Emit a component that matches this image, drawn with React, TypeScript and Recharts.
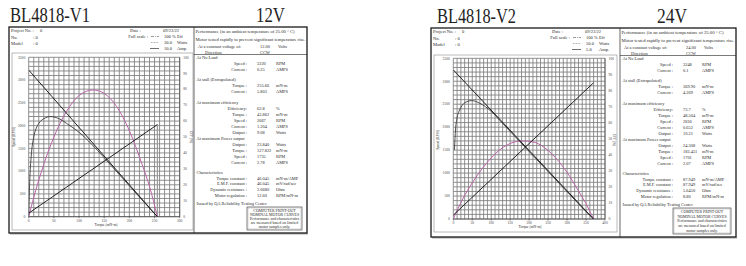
import React from 'react';
import { LineChart, Line, XAxis, YAxis, ReferenceLine } from 'recharts';

const SERIF = '"Liberation Serif", "Times New Roman", serif';

// shared axis ticks
const speedTicks = [0, 500, 1000, 1500, 2000, 2500, 3000, 3500];
const effTicks = [0, 10, 20, 30, 40, 50, 60, 70, 80, 90, 100];
const v1TorqueTicks = [0, 50, 100, 150, 200, 250, 300];
const v2TorqueTicks = [0, 50, 100, 150, 200, 250, 300, 350, 400];

// BL4818-V1, 12V
const v1SpeedTorque = [0, 255.66];
const v1Speed = [3220, 0];
const v1CurrentTorque = [0, 255.66];
const v1Current = [0.22, 5.78];
const v1EffTorque = [0, 2, 5, 10, 15, 20, 30, 43.8, 60, 80, 100, 125, 150, 175, 200, 225, 245, 255.66];
const v1Eff = [0, 22, 38, 50, 55.5, 58.5, 61.5, 62.8, 61.5, 57.5, 53, 45.5, 37, 28.2, 19.4, 10.6, 3.6, 0];
const v1PowerTorque = [0, 10, 25, 50, 75, 100, 128, 150, 175, 200, 225, 240, 255.66];
const v1Power = [0, 3.6, 8.4, 15.0, 19.8, 22.8, 23.85, 23.2, 20.7, 16.2, 9.9, 5.7, 0];

// BL4818-V2, 24V
const v2SpeedTorque = [0, 369.9];
const v2Speed = [3248, 0];
const v2CurrentTorque = [0, 369.9];
const v2Current = [0.12, 4.24];
const v2EffTorque = [3, 6, 10, 15, 20, 30, 48.5, 70, 100, 130, 160, 190, 220, 250, 280, 310, 340, 360, 369.9];
const v2Eff = [43, 56, 63, 67, 69.5, 72.3, 73.7, 72, 67, 59.5, 52, 44.5, 37, 29.5, 22, 14.5, 7, 2.2, 0];
const v2PowerTorque = [0, 25, 50, 75, 100, 125, 150, 182, 210, 240, 270, 300, 330, 350, 369.9];
const v2Power = [0, 6.25, 11.25, 15.5, 19, 21.75, 23.5, 24.3, 24, 22.25, 19, 14.5, 8.75, 4.75, 0];

const v1Header = { date: '09/23/22', eff: '100 %', watts: '30.0', amps: '10.0' };
const v2Header = { date: '09/23/22', eff: '100 %', watts: '50.0', amps: '5.0' };

const v1Top = ['12.00', 'CCW'];
const v2Top = ['24.00', 'CCW'];

// [kind, label, value, unit]
const v1Panel: string[][] = [
  ['h', 'At No Load', '', ''],
  ['r', 'Speed :', '3220', 'RPM'],
  ['r', 'Current :', '0.25', 'AMPS'],
  ['h', 'At stall (Extrapolated)', '', ''],
  ['r', 'Torque :', '255.66', 'mN-m'],
  ['r', 'Current :', '5.803', 'AMPS'],
  ['h', 'At maximum efficiency', '', ''],
  ['r', 'Efficiency:', '62.8', '%'],
  ['r', 'Torque :', '43.862', 'mN-m'],
  ['r', 'Speed :', '2667', 'RPM'],
  ['r', 'Current :', '1.204', 'AMPS'],
  ['r', 'Output :', '9.08', 'Watts'],
  ['h', 'At maximum Power output', '', ''],
  ['r', 'Output :', '23.840', 'Watts'],
  ['r', 'Torque :', '127.822', 'mN-m'],
  ['r', 'Speed :', '1735', 'RPM'],
  ['r', 'Current :', '2.78', 'AMPS'],
  ['h', 'Characteristics', '', ''],
  ['r', 'Torque constant   :', '46.045', 'mN-m/AMP'],
  ['r', 'E.M.F. constant   :', '46.045', 'mV/rad/sec'],
  ['r', 'Dynamic resistance   :', '2.0680', 'Ohm'],
  ['r', 'Motor regulation   :', '12.60', 'RPM/mN-m'],
  ['h', 'Issued by QA Reliability Testing  Center', '', ''],
];

const v2Panel: string[][] = [
  ['h', 'At No Load', '', ''],
  ['r', 'Speed :', '3248', 'RPM'],
  ['r', 'Current :', '0.1', 'AMPS'],
  ['h', 'At stall (Extrapolated)', '', ''],
  ['r', 'Torque :', '369.90', 'mN-m'],
  ['r', 'Current :', '4.269', 'AMPS'],
  ['h', 'At maximum efficiency', '', ''],
  ['r', 'Efficiency:', '73.7', '%'],
  ['r', 'Torque :', '48.504', 'mN-m'],
  ['r', 'Speed :', '2816', 'RPM'],
  ['r', 'Current :', '0.652', 'AMPS'],
  ['r', 'Output :', '10.21', 'Watts'],
  ['h', 'At maximum Power output', '', ''],
  ['r', 'Output :', '24.308', 'Watts'],
  ['r', 'Torque :', '182.451', 'mN-m'],
  ['r', 'Speed :', '1701', 'RPM'],
  ['r', 'Current :', '2.07', 'AMPS'],
  ['h', 'Characteristics', '', ''],
  ['r', 'Torque constant   :', '87.949', 'mN-m/AMP'],
  ['r', 'E.M.F. constant   :', '87.949', 'mV/rad/sec'],
  ['r', 'Dynamic resistance   :', '5.6450', 'Ohm'],
  ['r', 'Motor regulation   :', '8.80', 'RPM/mN-m'],
  ['h', 'Issued by QA Reliability Testing  Center', '', ''],
];

const panelRowY = [30.5, 36, 42, 52, 58.5, 64.5, 75, 81, 87, 93, 99, 105, 111, 117, 123, 129, 135, 145, 151, 156.5, 162.5, 168, 176.5];
const boxLines = ['COMPUTER PRINT-OUT', 'NOMINAL MOTOR CURVES', 'Performance and characteristics', 'are measured based on limited', 'motor samples only.'];

// grid every 100 RPM and every 10 mN-m
const speedGrid = Array.from({ length: 36 }, (_, i) => i * 100);
const v1Grid = Array.from({ length: 31 }, (_, i) => i * 10);
const v2Grid = Array.from({ length: 41 }, (_, i) => i * 10);

const pts = (xs: number[], ys: number[]) => xs.map((t, i) => ({ t, v: ys[i] }));

const labelStyle = { fontSize: 3.6, fill: '#444', fontFamily: SERIF };

const xTick = (p: any) => (
  <text x={p.x} y={p.y} dy={3} textAnchor="middle" fontSize={3.6} fill="#444" fontFamily={SERIF}>
    {p.payload.value}
  </text>
);

function MotorChart(props: any) {
  const { left, top, width, height, margin, xMax, xTicks, xGrid, speed, current, eff, power, ampMax, wattMax, stall } = props;
  return (
    <div style={{ position: 'absolute', left, top, width, height }}>
      <LineChart width={width} height={height} margin={margin}>
        <XAxis type="number" dataKey="t" domain={[0, xMax]} ticks={xTicks} interval={0} allowDataOverflow height={8}
          tickSize={1.5} tickMargin={0.5} tick={xTick} stroke="#333" strokeWidth={0.6} />
        <YAxis yAxisId="speed" orientation="left" domain={[0, 3500]} ticks={speedTicks} interval={0} width={10}
          tickSize={1.5} tick={false} stroke="#333" strokeWidth={0.6} allowDataOverflow />
        <YAxis yAxisId="eff" orientation="right" domain={[0, 100]} ticks={effTicks} interval={0} width={10}
          tickSize={1.5} tick={false} stroke="#333" strokeWidth={0.6} allowDataOverflow />
        <YAxis yAxisId="amp" hide domain={[0, ampMax]} />
        <YAxis yAxisId="watt" hide domain={[0, wattMax]} />
        {speedGrid.map((v) => (
          <ReferenceLine key={'h' + v} yAxisId="speed" y={v} stroke="#7c7c7c" strokeWidth={0.85} />
        ))}
        {xGrid.map((v: number) => (
          <ReferenceLine key={'v' + v} yAxisId="speed" x={v} stroke="#7c7c7c" strokeWidth={0.85} />
        ))}
        {speedTicks.map((v) => (
          <ReferenceLine key={'sl' + v} yAxisId="speed" y={v} stroke="none"
            label={{ value: String(v), position: 'left', offset: 3.5, ...labelStyle }} />
        ))}
        {effTicks.map((v) => (
          <ReferenceLine key={'el' + v} yAxisId="eff" y={v} stroke="none"
            label={{ value: String(v), position: 'right', offset: 3.5, ...labelStyle }} />
        ))}
        {stall ? (
          <ReferenceLine yAxisId="amp" segment={[{ x: stall[0], y: 0 }, { x: stall[0], y: stall[1] }]} stroke="#9a9a9a" strokeWidth={1.2} />
        ) : null}
        <Line yAxisId="watt" data={power} dataKey="v" type="monotone" stroke="#b865a8" strokeWidth={1} dot={false} isAnimationActive={false} />
        <Line yAxisId="eff" data={eff} dataKey="v" type="monotone" stroke="#333" strokeWidth={0.85} dot={false} isAnimationActive={false} />
        <Line yAxisId="speed" data={speed} dataKey="v" type="linear" stroke="#111" strokeWidth={0.9} dot={false} isAnimationActive={false} />
        <Line yAxisId="amp" data={current} dataKey="v" type="linear" stroke="#111" strokeWidth={0.9} dot={false} isAnimationActive={false} />
      </LineChart>
    </div>
  );
}

function Sheet(props: any) {
  const { x0, x1, top, bottom, div, header, topVals, panel, box, axis } = props;
  const fs = 4.5;
  const t = (y: number) => top + y + 1.5;
  return (
    <g fontFamily={SERIF} fill="#2a2a2a">
      <rect x={x0} y={top} width={x1 - x0} height={bottom - top} fill="none" stroke="#1a1a1a" strokeWidth={1.3} />
      <line x1={x0 + 1} y1={bottom + 0.8} x2={x1 + 0.8} y2={bottom + 0.8} stroke="#444" strokeWidth={0.8} />
      <line x1={div} y1={top} x2={div} y2={bottom} stroke="#222" strokeWidth={0.7} />
      <line x1={div} y1={top + 27.5} x2={x1} y2={top + 27.5} stroke="#222" strokeWidth={0.6} />
      <rect x={axis.bx} y={axis.by} width={axis.bw} height={axis.bh} fill="none" stroke="#8a8a8a" strokeWidth={0.6} />
      {/* header */}
      <text x={x0 + 2} y={t(3.5)} fontSize={fs}>Project No. :</text>
      <text x={x0 + 31} y={t(3.5)} fontSize={fs}>0</text>
      <text x={x0 + 2} y={t(10)} fontSize={fs}>No.</text>
      <text x={x0 + 24} y={t(10)} fontSize={fs}>:  0</text>
      <text x={x0 + 2} y={t(16)} fontSize={fs}>Model</text>
      <text x={x0 + 24} y={t(16)} fontSize={fs}>:  0</text>
      <text x={x0 + 121} y={t(3.5)} fontSize={fs}>Date  :</text>
      <text x={x0 + 154} y={t(3.5)} fontSize={fs}>{header.date}</text>
      <text x={x0 + 139} y={t(9.5)} fontSize={fs} textAnchor="end">Full scale :</text>
      <line x1={x0 + 142} y1={top + 9.5} x2={x0 + 150} y2={top + 9.5} stroke="#333" strokeWidth={0.5} strokeDasharray="3 1 0.8 1" />
      <line x1={x0 + 142} y1={top + 15.5} x2={x0 + 150} y2={top + 15.5} stroke="#333" strokeWidth={0.5} strokeDasharray="0.8 0.8" />
      <line x1={x0 + 141} y1={top + 21.5} x2={x0 + 150} y2={top + 21.5} stroke="#333" strokeWidth={0.7} />
      <text x={x0 + 155} y={t(9.5)} fontSize={fs}>{header.eff}</text>
      <text x={x0 + 155} y={t(15.5)} fontSize={fs}>{header.watts}</text>
      <text x={x0 + 155} y={t(21.5)} fontSize={fs}>{header.amps}</text>
      <text x={x0 + 168} y={t(9.5)} fontSize={fs}>Eff</text>
      <text x={x0 + 168} y={t(15.5)} fontSize={fs}>Watts</text>
      <text x={x0 + 168} y={t(21.5)} fontSize={fs}>Amp.</text>
      {/* panel top */}
      <text x={div + 1.5} y={t(4)} fontSize={4.4} textLength={x1 - div - 14} lengthAdjust="spacingAndGlyphs">Performance (in an ambient temperature of 25.00 ° C)</text>
      <text x={div + 1.5} y={t(12)} fontSize={4.4} textLength={x1 - div - 3} lengthAdjust="spacingAndGlyphs">Motor tested rapidly to prevent significant temperature rise.</text>
      <text x={div + 4} y={t(19)} fontSize={4.4}>At a constant voltage of:</text>
      <text x={div + 66} y={t(19)} fontSize={4.4}>{topVals[0]}</text>
      <text x={div + 84} y={t(19)} fontSize={4.4}>Volts</text>
      <text x={div + 11} y={t(25)} fontSize={4.4}>Direction</text>
      <text x={div + 66} y={t(25)} fontSize={4.4}>{topVals[1]}</text>
      {panel.map((r: string[], i: number) => {
        const y = t(panelRowY[i]);
        if (r[0] === 'h') return <text key={i} x={div + 2.5} y={y} fontSize={4.4}>{r[1]}</text>;
        return (
          <g key={i} fontSize={4.4}>
            <text x={div + 53} y={y} textAnchor="end">{r[1]}</text>
            <text x={div + 63} y={y}>{r[2]}</text>
            <text x={div + 82} y={y}>{r[3]}</text>
          </g>
        );
      })}
      <rect x={div + 53} y={top + 180} width={x1 - div - 58} height={box} fill="none" stroke="#333" strokeWidth={0.6} />
      <rect x={div + 54} y={top + 181} width={x1 - div - 60} height={box - 2} fill="none" stroke="#777" strokeWidth={0.3} />
      {boxLines.map((s, i) => (
        <text key={i} x={(div + 53 + x1 - 5) / 2} y={top + 185 + i * (box - 6) / 4.3} fontSize={3.9} textAnchor="middle">{s}</text>
      ))}
      {/* axis labels */}
      <text x={axis.sx} y={axis.sy} fontSize={3.6} textAnchor="middle" transform={`rotate(-90 ${axis.sx} ${axis.sy})`}>Speed (RPM)</text>
      <text x={axis.ex} y={axis.ey} fontSize={3.6} textAnchor="middle" transform={`rotate(90 ${axis.ex} ${axis.ey})`}>EFF (%)</text>
      <text x={axis.tx} y={axis.ty} fontSize={3.6} textAnchor="middle">Torque (mN-m)</text>
    </g>
  );
}

export default function App() {
  return (
    <div style={{ position: 'absolute', left: 0, top: 0, width: 746, height: 266, background: '#fff', overflow: 'hidden' }}>
      <MotorChart left={12} top={53} width={181} height={177}
        margin={{ top: 4.3, right: 3.3, bottom: 5.3, left: 6.7 }}
        xMax={300} xTicks={v1TorqueTicks} xGrid={v1Grid}
        speed={pts(v1SpeedTorque, v1Speed)} current={pts(v1CurrentTorque, v1Current)}
        eff={pts(v1EffTorque, v1Eff)} power={pts(v1PowerTorque, v1Power)}
        ampMax={10} wattMax={30} stall={[v1CurrentTorque[1], v1Current[1]]} />
      <MotorChart left={434} top={55} width={183} height={177}
        margin={{ top: 3.3, right: 2, bottom: 5, left: 9.3 }}
        xMax={400} xTicks={v2TorqueTicks} xGrid={v2Grid}
        speed={pts(v2SpeedTorque, v2Speed)} current={pts(v2CurrentTorque, v2Current)}
        eff={pts(v2EffTorque, v2Eff)} power={pts(v2PowerTorque, v2Power)}
        ampMax={5} wattMax={50} stall={null} />
      <svg width={746} height={266} style={{ position: 'absolute', left: 0, top: 0, pointerEvents: 'none' }}>
        <text x={10} y={22} fontFamily={SERIF} fontSize={20} fill="#222" textLength={80} lengthAdjust="spacingAndGlyphs">BL4818-V1</text>
        <text x={256} y={22} fontFamily={SERIF} fontSize={20} fill="#222" textLength={29} lengthAdjust="spacingAndGlyphs">12V</text>
        <text x={437} y={23} fontFamily={SERIF} fontSize={20} fill="#222" textLength={79} lengthAdjust="spacingAndGlyphs">BL4818-V2</text>
        <text x={657} y={23} fontFamily={SERIF} fontSize={20} fill="#222" textLength={30} lengthAdjust="spacingAndGlyphs">24V</text>
        <Sheet x0={9} x1={307} top={27} bottom={233} div={194} header={v1Header} topVals={v1Top} panel={v1Panel} box={23}
          axis={{ bx: 12, by: 53, bw: 181, bh: 177, sx: 15, sy: 137, ex: 190, ey: 137, tx: 106, ty: 226 }} />
        <Sheet x0={431} x1={736} top={28} bottom={237} div={620} header={v2Header} topVals={v2Top} panel={v2Panel} box={26}
          axis={{ bx: 434, by: 55, bw: 183, bh: 177, sx: 439, sy: 140, ex: 613, ey: 140, tx: 530, ty: 228 }} />
      </svg>
    </div>
  );
}
